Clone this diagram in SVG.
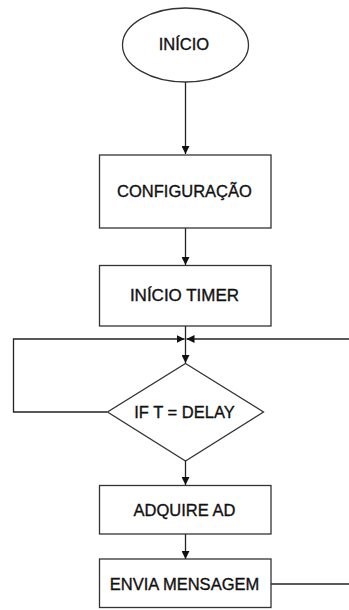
<svg xmlns="http://www.w3.org/2000/svg" width="349" height="610" viewBox="0 0 349 610">
<style>
.shape{fill:#fff;stroke:#333;stroke-width:1.3}
.conn{fill:none;stroke:#222;stroke-width:1.3}
text{font-family:"Liberation Sans",Arial,sans-serif;font-size:16.5px;fill:#111;stroke:#111;stroke-width:0.35;text-anchor:middle;dominant-baseline:central}
</style>
<defs>
<marker id="arr" viewBox="0 0 10 10" refX="10" refY="5" markerWidth="8" markerHeight="8" markerUnits="userSpaceOnUse" orient="auto">
<path d="M0,0 L10,5 L0,10 z" fill="#111"/>
</marker>
</defs>
<rect width="349" height="610" fill="#fff"/>
<g id="connectors">
<line class="conn" x1="185.5" y1="82" x2="185.5" y2="154" marker-end="url(#arr)"/>
<line class="conn" x1="185.5" y1="228" x2="185.5" y2="265" marker-end="url(#arr)"/>
<line class="conn" x1="185.5" y1="326" x2="185.5" y2="363" marker-end="url(#arr)"/>
<polyline class="conn" points="107,412 13.5,412 13.5,339 184.5,339" marker-end="url(#arr)"/>
<line class="conn" x1="349" y1="339" x2="186.5" y2="339" marker-end="url(#arr)"/>
<line class="conn" x1="185.5" y1="461" x2="185.5" y2="485" marker-end="url(#arr)"/>
<line class="conn" x1="185.5" y1="534" x2="185.5" y2="559" marker-end="url(#arr)"/>
<line class="conn" x1="271" y1="584" x2="349" y2="584"/>
</g>
<g id="inicio">
<ellipse class="shape" cx="185.5" cy="45" rx="63" ry="37"/>
<text x="184" y="44">INÍCIO</text>
</g>
<g id="configuracao">
<rect class="shape" x="99.5" y="155" width="171.5" height="73"/>
<text x="184.5" y="191">CONFIGURAÇÃO</text>
</g>
<g id="inicio-timer">
<rect class="shape" x="99.5" y="265.5" width="171.5" height="60.5"/>
<text x="184.5" y="295" style="font-size:17px">INÍCIO TIMER</text>
</g>
<g id="if-delay">
<polygon class="shape" points="185.5,363.5 263.5,412 185.5,461 107.5,412"/>
<text x="184.5" y="412">IF T = DELAY</text>
</g>
<g id="adquire-ad">
<rect class="shape" x="99.5" y="485.5" width="171.5" height="48.5"/>
<text x="184.5" y="510">ADQUIRE AD</text>
</g>
<g id="envia-mensagem">
<rect class="shape" x="99.5" y="559" width="171.5" height="48.5"/>
<text x="184.5" y="584">ENVIA MENSAGEM</text>
</g>
</svg>
